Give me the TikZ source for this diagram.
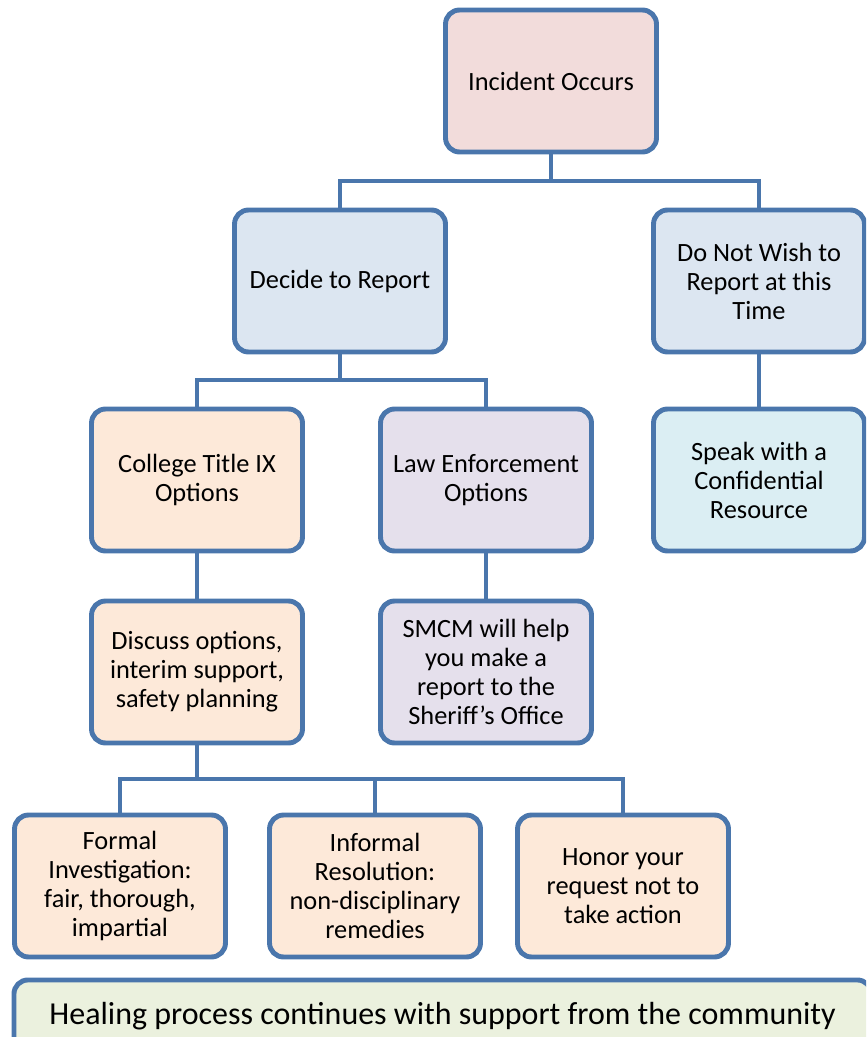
\documentclass[tikz,border=0pt]{standalone}
\usepackage{fontspec}
\setmainfont{Carlito}
\usepackage{xcolor}
\definecolor{edgeblue}{HTML}{4A76AC}
\definecolor{pinkfill}{HTML}{F2DCDB}
\definecolor{bluefill}{HTML}{DCE6F1}
\definecolor{cyanfill}{HTML}{DBEEF3}
\definecolor{peachfill}{HTML}{FDE9D9}
\definecolor{lilacfill}{HTML}{E5E0EC}
\definecolor{greenfill}{HTML}{EBF1DE}

\begin{document}
\begin{tikzpicture}[x=0.02cm,y=-0.02cm,
  main node/.style={draw=edgeblue,line width=2.8pt,rounded corners=0.28cm,
    minimum width=4.22cm,minimum height=2.84cm,align=center,
    font=\fontsize{15}{16.5}\selectfont},
  link/.style={draw=edgeblue,line width=2.8pt}]
  \useasboundingbox (0,0) rectangle (866,1037);
  \clip (0,0) rectangle (866,1037);

  \node[main node,fill=pinkfill] (inc) at (551,81) {Incident Occurs};
  \node[main node,fill=bluefill] (rep) at (340,281) {Decide to Report};
  \node[main node,fill=bluefill] (norep) at (759,281) {Do Not Wish to\\Report at this\\Time};
  \node[main node,fill=peachfill] (title) at (197,480) {College Title IX\\Options};
  \node[main node,fill=lilacfill] (law) at (486,480) {Law Enforcement\\Options};
  \node[main node,fill=cyanfill] (conf) at (759,480) {Speak with a\\Confidential\\Resource};
  \node[main node,fill=peachfill] (disc) at (197,672) {Discuss options,\\interim support,\\safety planning};
  \node[main node,fill=lilacfill] (smcm) at (486,672) {SMCM will help\\you make a\\report to the\\Sheriff’s Office};
  \node[main node,fill=peachfill] (formal) at (120,886) {Formal\\Investigation:\\fair, thorough,\\impartial};
  \node[main node,fill=peachfill] (informal) at (375,886) {Informal\\Resolution:\\non-disciplinary\\remedies};
  \node[main node,fill=peachfill] (honor) at (623,886) {Honor your\\request not to\\take action};
  \node[main node,fill=greenfill,minimum width=17.15cm,minimum height=1cm,
    text height=0.77cm,text depth=0.6cm,
    font=\fontsize{18.2}{20}\selectfont,anchor=north west] (heal) at (11.5,977.5)
    {Healing process continues with support from the community};

  % tree links
  \coordinate (j1) at (551,181);
  \coordinate (j2) at (340,380);
  \coordinate (j3) at (197,779);
  \draw[link] (inc.south) -- (j1) -| (rep.north);
  \draw[link] (j1) -| (norep.north);
  \draw[link] (rep.south) -- (j2) -| (title.north);
  \draw[link] (j2) -| (law.north);
  \draw[link] (norep.south) -- (conf.north);
  \draw[link] (title.south) -- (disc.north);
  \draw[link] (law.south) -- (smcm.north);
  \draw[link] (disc.south) -- (j3) -| (formal.north);
  \draw[link] (j3) -| (informal.north);
  \draw[link] (j3) -| (honor.north);
\end{tikzpicture}
\end{document}
